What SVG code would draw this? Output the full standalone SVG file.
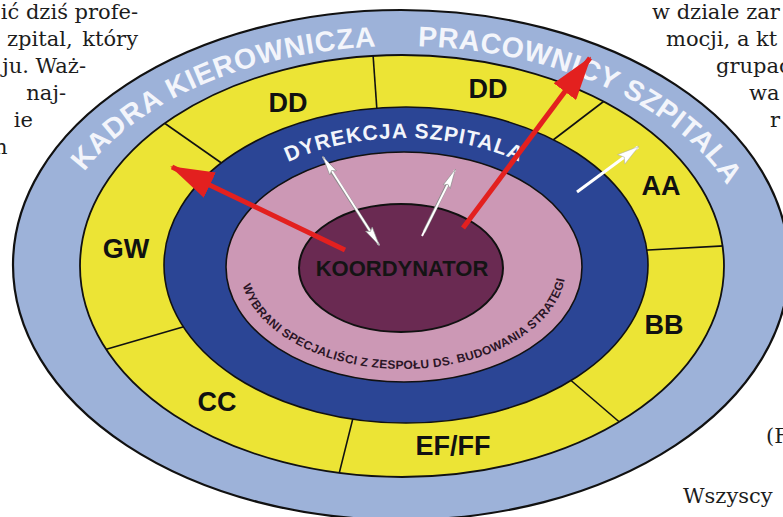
<svg xmlns="http://www.w3.org/2000/svg" xmlns:xlink="http://www.w3.org/1999/xlink" width="783" height="517" viewBox="0 0 783 517">
<style>
.edge{stroke:#111}
.div{stroke:#111;stroke-width:1.6;fill:none}
.lbl{font-family:"Liberation Sans",Arial,sans-serif;font-weight:bold;font-size:27px;fill:#111;text-anchor:middle}
.arc{font-family:"Liberation Sans",Arial,sans-serif;font-weight:bold;fill:#f3f5fb;text-anchor:middle}
.body{font-family:"DejaVu Serif","Liberation Serif",serif;font-size:21px;fill:#1c1c1c}
.red{stroke:#e3201f;stroke-width:5;fill:none}
.wht{stroke:#fff;stroke-width:2;fill:none}
.whtb{stroke:#8a8a8a;stroke-width:3.2;fill:none}
</style>
<defs>
<clipPath id="yclip"><ellipse cx="402" cy="266" rx="322" ry="211"/></clipPath>
<path id="outerArc" d="M 51 265 A 350 219 0 0 1 751 265"/>
<path id="dirArc" d="M 205 266 A 199 128 0 0 1 603 266"/>
<path id="specArc" d="M 240 267 A 163 102 0 0 0 566 267"/>
<marker id="redHead" markerUnits="userSpaceOnUse" markerWidth="44" markerHeight="28" viewBox="0 0 44 28" refX="42" refY="14" orient="auto">
<path d="M0,0 L44,14 L0,28 Z" fill="#e3201f"/>
</marker>
<marker id="whiteHead" markerUnits="userSpaceOnUse" markerWidth="20" markerHeight="10" viewBox="0 0 20 10" refX="19" refY="5" orient="auto-start-reverse">
<path d="M0,1 L20,5 L0,9 L3,5 Z" fill="#fff" stroke="#888" stroke-width="0.6"/>
</marker>
<marker id="whiteHeadBig" markerUnits="userSpaceOnUse" markerWidth="22" markerHeight="14" viewBox="0 0 22 14" refX="21" refY="7" orient="auto">
<path d="M0,1 L22,7 L0,13 L4,7 Z" fill="#fff" stroke="#aaa" stroke-width="0.5"/>
</marker>
</defs>
<rect width="783" height="517" fill="#fff"/>

<g id="page-text" class="body">
<text x="138" y="19" text-anchor="end">ić dziś profe-</text>
<text x="138" y="46" text-anchor="end" word-spacing="3">zpital, który</text>
<text x="86" y="73" text-anchor="end">ju. Waż-</text>
<text x="66" y="100" text-anchor="end">naj-</text>
<text x="33" y="127" text-anchor="end">ie</text>
<text x="-6" y="154">n</text>
<text x="652" y="19">w dziale zar</text>
<text x="666" y="46">mocji, a kt</text>
<text x="716" y="73">grupac</text>
<text x="749" y="100">wa</text>
<text x="770" y="127">r</text>
<text x="766" y="443">(F</text>
<text x="683" y="503">Wszyscy</text>
</g>

<g id="ring-pracownicy">
<ellipse cx="401" cy="265" rx="388" ry="255" fill="#9db2d9" class="edge" stroke-width="2.2"/>
<text class="arc" font-size="28.5" letter-spacing="0.8"><textPath href="#outerArc" xlink:href="#outerArc" startOffset="29.2%">KADRA KIEROWNICZA</textPath></text>
<text class="arc" font-size="28.5" letter-spacing="0.5"><textPath href="#outerArc" xlink:href="#outerArc" startOffset="71.3%">PRACOWNICY SZPITALA</textPath></text>
</g>

<g id="ring-kadra">
<ellipse cx="402" cy="266" rx="322" ry="211" fill="#ece435" class="edge" stroke-width="1.8"/>
<g clip-path="url(#yclip)" class="div">
<line x1="150" y1="113" x2="240" y2="176"/>
<line x1="372" y1="40" x2="378" y2="125"/>
<line x1="616" y1="92" x2="540" y2="150"/>
<line x1="630" y1="251" x2="740" y2="245"/>
<line x1="560" y1="371" x2="645" y2="444"/>
<line x1="354" y1="414" x2="335" y2="490"/>
<line x1="90" y1="354" x2="200" y2="322"/>
</g>
</g>
<g id="seg-dd-left"><text class="lbl" x="288" y="112">DD</text></g>
<g id="seg-dd-right"><text class="lbl" x="488" y="98">DD</text></g>
<g id="seg-aa"><text class="lbl" x="661" y="195">AA</text></g>
<g id="seg-bb"><text class="lbl" x="664" y="334">BB</text></g>
<g id="seg-efff"><text class="lbl" x="453" y="455">EF/FF</text></g>
<g id="seg-cc"><text class="lbl" x="217" y="411">CC</text></g>
<g id="seg-gw"><text class="lbl" x="126" y="258">GW</text></g>

<g id="ring-dyrekcja">
<ellipse cx="406" cy="265" rx="242" ry="158" fill="#2b4595" class="edge" stroke-width="1.6"/>
<text class="arc" font-size="21" letter-spacing="1"><textPath href="#dirArc" xlink:href="#dirArc" startOffset="50%">DYREKCJA SZPITALA</textPath></text>
</g>

<g id="ring-specjalisci">
<ellipse cx="404" cy="267" rx="178" ry="115" fill="#cc98b5" class="edge" stroke-width="1.6"/>
<text font-family="Liberation Sans, Arial, sans-serif" font-weight="bold" font-size="12" fill="#2a1526" text-anchor="middle" letter-spacing="0.3"><textPath href="#specArc" xlink:href="#specArc" startOffset="50.8%">WYBRANI SPECJALIŚCI Z ZESPOŁU DS. BUDOWANIA STRATEGI</textPath></text>
</g>

<g id="koordynator">
<ellipse cx="401" cy="268" rx="102" ry="64" fill="#6a2a52" class="edge" stroke-width="2"/>
<text x="402" y="276" font-family="Liberation Sans, Arial, sans-serif" font-weight="bold" font-size="22" fill="#141414" text-anchor="middle">KOORDYNATOR</text>
</g>

<g id="connectors">
<line class="red" x1="345" y1="250" x2="172" y2="167" marker-end="url(#redHead)"/>
<line class="red" x1="463" y1="228" x2="590" y2="58" marker-end="url(#redHead)"/>
<line class="whtb" x1="328" y1="166" x2="374" y2="237"/>
<line class="wht" x1="323" y1="157" x2="379" y2="245" marker-start="url(#whiteHead)" marker-end="url(#whiteHead)"/>
<line class="whtb" x1="424" y1="232" x2="450" y2="179"/>
<line class="wht" x1="422" y1="236" x2="455" y2="170" marker-end="url(#whiteHead)"/>
<line stroke="#fff" stroke-width="3" x1="577" y1="192" x2="638" y2="147" marker-end="url(#whiteHeadBig)"/>
</g>
</svg>
